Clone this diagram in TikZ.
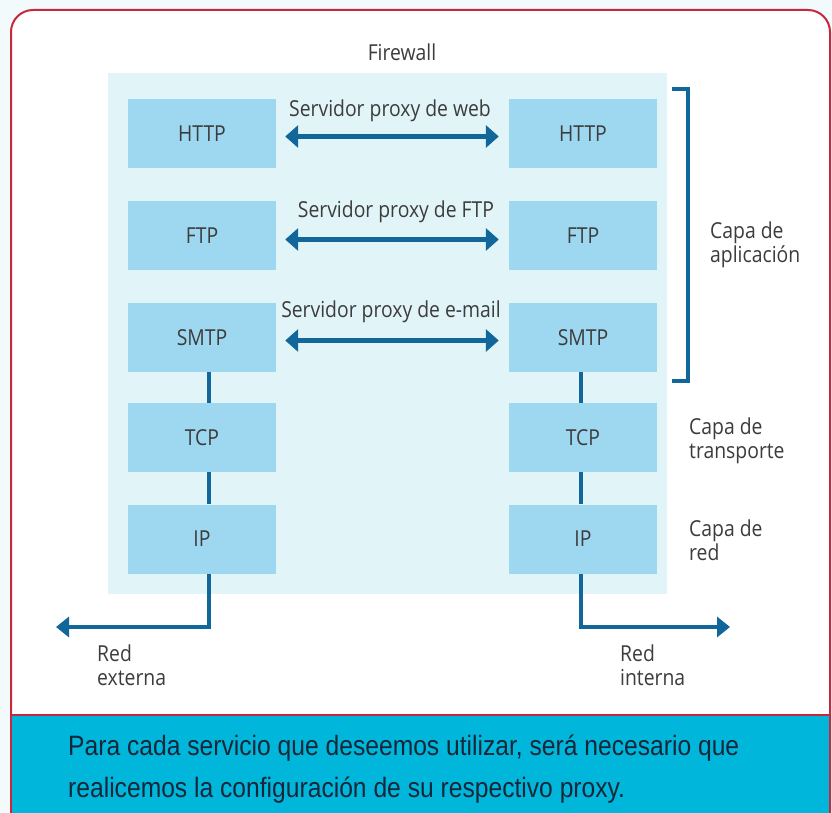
\documentclass[tikz,border=0pt]{standalone}
\usepackage{fontspec}
\setmainfont{Open Sans}[FakeStretch=0.88]
\newfontfamily\bandfont{Liberation Sans}[FakeStretch=0.88]
\usetikzlibrary{arrows.meta}
\definecolor{pagebg}{HTML}{F2FAFB}
\definecolor{redline}{HTML}{C8283C}
\definecolor{panel}{HTML}{E1F4F8}
\definecolor{boxc}{HTML}{9DD7F0}
\definecolor{arrowc}{HTML}{11679A}
\definecolor{band}{HTML}{00B6DA}
\definecolor{bandtext}{HTML}{17273A}
\definecolor{txt}{HTML}{3C3C3C}
\begin{document}
\begin{tikzpicture}[x=1pt,y=-1pt,
  layer/.style={fill=boxc,minimum width=148pt,minimum height=69pt,inner sep=0pt,font=\fontsize{22}{26}\selectfont,text=txt},
  conn/.style={draw=arrowc,line width=4.5pt},
  darrow/.style={draw=arrowc,line width=5pt,{Triangle[length=13pt,width=22pt]}-{Triangle[length=13pt,width=22pt]}},
  sarrow/.style={draw=arrowc,line width=4pt,-{Triangle[length=13pt,width=20pt]}},
  lbl/.style={font=\fontsize{22}{26}\selectfont,text=txt,inner sep=0pt},
  side/.style={font=\fontsize{22}{26}\selectfont,text=txt,align=left,anchor=west,inner sep=0pt}]
\useasboundingbox (0,0) rectangle (832,813);
\fill[pagebg] (0,0) rectangle (832,813);
% outer frame
\begin{scope}
\clip (0,0) rectangle (832,813);
\draw[redline,line width=2pt,fill=white,rounded corners=22pt] (11,10) rectangle (830,840);
\fill[band,rounded corners=22pt] (12,715) rectangle (829,839);
\fill[band] (12,715) rectangle (829,740);
\draw[redline,line width=2pt] (12,714.5) -- (829,714.5);
\draw[redline,line width=2pt,rounded corners=22pt] (11,700) -- (11,840);
\draw[redline,line width=2pt] (830,700) -- (830,840);
\end{scope}
% panel
\fill[panel] (108,73) rectangle (667,594);
\node[lbl] (fw) at (402,52) {Firewall};
% boxes
\node[layer] (lh) at (202,133.5) {HTTP};
\node[layer] (lf) at (202,235.5) {FTP};
\node[layer] (ls) at (202,337.5) {SMTP};
\node[layer] (lt) at (202,437.5) {TCP};
\node[layer] (li) at (202,539) {IP};
\node[layer] (rh) at (583,133.5) {HTTP};
\node[layer] (rf) at (583,235.5) {FTP};
\node[layer] (rs) at (583,337.5) {SMTP};
\node[layer] (rt) at (583,437.5) {TCP};
\node[layer] (ri) at (583,539) {IP};
% proxy arrows
\draw[darrow] ([xshift=9pt,yshift=-3pt]lh.east) -- ([xshift=-10pt,yshift=-3pt]rh.west);
\draw[darrow] ([xshift=9pt,yshift=-4pt]lf.east) -- ([xshift=-10pt,yshift=-4pt]rf.west);
\draw[darrow] ([xshift=9pt,yshift=-3pt]ls.east) -- ([xshift=-10pt,yshift=-3pt]rs.west);
\node[lbl] (p1) at (390,111) {Servidor proxy de web};
\node[lbl] (p2) at (396,212) {Servidor proxy de FTP};
\node[lbl] (p3) at (391,312) {Servidor proxy de e-mail};
% vertical connectors
\draw[conn] ([xshift=7pt]ls.south) -- ([xshift=7pt]lt.north);
\draw[conn] ([xshift=7pt]lt.south) -- ([xshift=7pt]li.north);
\draw[conn] ([xshift=-2pt]rs.south) -- ([xshift=-2pt]rt.north);
\draw[conn] ([xshift=-2pt]rt.south) -- ([xshift=-2pt]ri.north);
% network arrows
\coordinate (ext) at (56,627);
\coordinate (int) at (730,627);
\draw[sarrow] ([xshift=7pt]li.south) |- (ext);
\draw[sarrow] ([xshift=-2pt]ri.south) |- (int);
\node[side] (re) at (97,665) {Red\\[-2pt]externa};
\node[side] (ri2) at (620,665) {Red\\[-2pt]interna};
% bracket
\coordinate (b1) at (672,89);
\coordinate (b2) at (688,89);
\coordinate (b3) at (688,381);
\coordinate (b4) at (672,381);
\draw[arrowc,line width=4pt] (b1) -- (b2) -- (b3) -- (b4);
\node[side] (ca) at (710,245) {Capa de\\[-2pt]aplicación};
\node[side] (ct) at (689,441) {Capa de\\[-2pt]transporte};
\node[side] (cr) at (689,540) {Capa de\\[-2pt]red};
% bottom text
\node[anchor=west,inner sep=0pt,text=bandtext,align=left,font=\bandfont\fontsize{28}{42}\selectfont] (bt) at (68,769) {Para cada servicio que deseemos utilizar, será necesario que\\realicemos la configuración de su respectivo proxy.};
\end{tikzpicture}
\end{document}
